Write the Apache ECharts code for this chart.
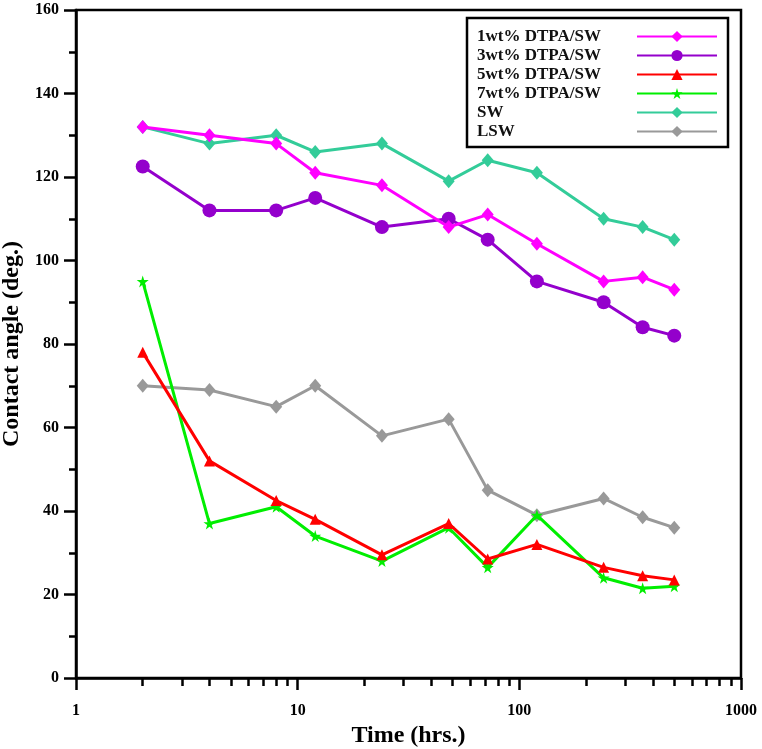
<!DOCTYPE html>
<html>
<head>
<meta charset="utf-8">
<script src="https://cdn.jsdelivr.net/npm/echarts@6/dist/echarts.min.js"></script>
<style>
html,body{margin:0;padding:0;background:#fff;}
#chart{width:762px;height:749px;}
</style>
</head>
<body>
<div id="chart"></div>
<script>
const timeHrs = [2, 4, 8, 12, 24, 48, 72, 120, 240, 360, 500];
const dtpa1 = [132, 130, 128, 121, 118, 108, 111, 104, 95, 96, 93];
const dtpa3 = [122.5, 112, 112, 115, 108, 110, 105, 95, 90, 84, 82];
const dtpa5 = [78, 52, 42.5, 38, 29.5, 37, 28.5, 32, 26.5, 24.5, 23.5];
const dtpa7 = [95, 37, 41, 34, 28, 36, 26.5, 39, 24, 21.5, 22];
const sw = [132, 128, 130, 126, 128, 119, 124, 121, 110, 108, 105];
const lsw = [70, 69, 65, 70, 58, 62, 45, 39, 43, 38.5, 36];
const seriesNames = ['1wt% DTPA/SW', '3wt% DTPA/SW', '5wt% DTPA/SW', '7wt% DTPA/SW', 'SW', 'LSW'];
const xTickLabels = ['1', '10', '100', '1000'];

const STAR = 'path://M50,0 L61,35 L98,35 L68,57 L79,91 L50,70 L21,91 L32,57 L2,35 L39,35 Z';
const styles = [
  {color: '#FF00FF', symbol: 'diamond', size: [12, 14]},
  {color: '#9400CC', symbol: 'circle', size: 14},
  {color: '#FF0000', symbol: 'triangle', size: 11},
  {color: '#00EE00', symbol: STAR, size: 12},
  {color: '#33CC99', symbol: 'diamond', size: [12, 14]},
  {color: '#999999', symbol: 'diamond', size: [12, 14]}
];
const values = [dtpa1, dtpa3, dtpa5, dtpa7, sw, lsw];

const FONT = '"Liberation Serif", "Times New Roman", serif';

const chart = echarts.init(document.getElementById('chart'), null, {renderer: 'canvas'});
chart.setOption({
  animation: false,
  backgroundColor: '#fff',
  grid: {left: 76, right: 21, top: 10, bottom: 71, show: true, borderColor: '#000', borderWidth: 2.5,
    containLabel: false, outerBoundsMode: 'none'},
  legend: {
    orient: 'vertical',
    left: 467, top: 18,
    align: 'right',
    itemWidth: 80, itemHeight: 14, itemGap: 2,
    padding: [10, 10, 7, 10],
    borderColor: '#000', borderWidth: 2.5,
    backgroundColor: '#fff',
    formatter: function (name) { return '{t|' + name + '}'; },
    textStyle: {
      fontFamily: FONT, fontWeight: 'bold', fontSize: 17, color: '#111', lineHeight: 17,
      rich: {t: {width: 155, align: 'left', fontFamily: FONT, fontWeight: 'bold', fontSize: 17, color: '#111', lineHeight: 17}}
    },
    data: seriesNames
  },
  xAxis: {
    type: 'log', logBase: 10, min: 1, max: 1000,
    name: 'Time (hrs.)', nameLocation: 'middle', nameGap: 41,
    nameTextStyle: {fontFamily: FONT, fontWeight: 'bold', fontSize: 24, color: '#000'},
    axisLine: {lineStyle: {color: '#000', width: 2.5}},
    axisTick: {length: 12, lineStyle: {color: '#000', width: 2.5}},
    minorTick: {show: true, splitNumber: 9, length: 8, lineStyle: {color: '#000', width: 2.5}},
    splitLine: {show: false},
    axisLabel: {margin: 25, fontFamily: FONT, fontWeight: 'bold', fontSize: 16, color: '#000',
      formatter: function (v) { const i = Math.round(Math.log10(v)); return xTickLabels[i] !== undefined ? xTickLabels[i] : ''; }}
  },
  yAxis: {
    type: 'value', min: 0, max: 160, interval: 20,
    name: 'Contact angle (deg.)', nameLocation: 'middle', nameGap: 50,
    nameTextStyle: {fontFamily: FONT, fontWeight: 'bold', fontSize: 24, color: '#000'},
    axisLine: {show: true, lineStyle: {color: '#000', width: 2.5}},
    axisTick: {length: 12, lineStyle: {color: '#000', width: 2.5}},
    minorTick: {show: true, splitNumber: 2, length: 7, lineStyle: {color: '#000', width: 2.5}},
    splitLine: {show: false},
    axisLabel: {margin: 17, fontFamily: FONT, fontWeight: 'bold', fontSize: 16, color: '#000'}
  },
  series: seriesNames.map(function (name, k) {
    return {
      name: name,
      type: 'line',
      data: timeHrs.map(function (t, i) { return [t, values[k][i]]; }),
      symbol: styles[k].symbol,
      symbolSize: styles[k].size,
      showAllSymbol: true,
      lineStyle: {color: styles[k].color, width: 3},
      itemStyle: {color: styles[k].color},
      z: 10 - k
    };
  })
});
</script>
</body>
</html>
